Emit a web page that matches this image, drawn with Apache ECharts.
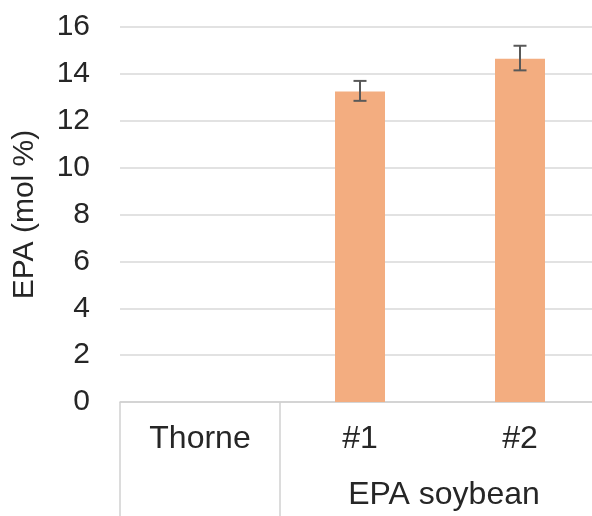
<!DOCTYPE html>
<html>
<head>
<meta charset="utf-8">
<script src="https://cdn.jsdelivr.net/npm/echarts@6/dist/echarts.min.js"></script>
<style>html,body{margin:0;padding:0;background:#fff;}#c{width:592px;height:516px;}</style>
</head>
<body>
<div id="c"></div>
<script>
const categories = ['Thorne', '#1', '#2'];
const groupLabel = 'EPA soybean';
const values = [null, 13.25, 14.65];
const errLow = [null, 12.85, 14.15];
const errHigh = [null, 13.7, 15.2];
const yTicks = [0, 2, 4, 6, 8, 10, 12, 14, 16];

const chart = echarts.init(document.getElementById('c'));
const font = 'Liberation Sans, Arial, sans-serif';
const fs = 30;
const fx = 32;
const option = {
  animation: false,
  grid: { left: 120, top: 27, width: 480, height: 375, outerBoundsMode: 'none', containLabel: false },
  xAxis: {
    type: 'category',
    data: categories,
    axisLine: { lineStyle: { color: '#d0d0d0', width: 1.5 } },
    axisTick: { show: false },
    axisLabel: { fontSize: fx, color: '#262626', fontFamily: font, margin: 21 }
  },
  yAxis: {
    type: 'value',
    min: yTicks[0], max: yTicks[yTicks.length - 1], interval: 2,
    name: 'EPA (mol %)', nameLocation: 'middle', nameGap: 80,
    nameTextStyle: { fontSize: fs, color: '#262626', fontFamily: font },
    axisLine: { show: false }, axisTick: { show: false },
    axisLabel: { fontSize: fs, color: '#262626', fontFamily: font, margin: 30 },
    splitLine: { lineStyle: { color: '#d9d9d9', width: 1.5 } }
  },
  series: [
    { type: 'bar', data: values, barWidth: 50, itemStyle: { color: '#F3AD80' } },
    {
      type: 'custom',
      data: categories.map((c, i) => [i, errLow[i], errHigh[i]]).filter(d => d[1] != null),
      renderItem: function (params, api) {
        const x = api.value(0);
        const lo = api.coord([x, api.value(1)]);
        const hi = api.coord([x, api.value(2)]);
        const hw = 6.5;
        const st = { stroke: '#595959', lineWidth: 2 };
        return { type: 'group', children: [
          { type: 'line', shape: { x1: lo[0], y1: lo[1], x2: hi[0], y2: hi[1] }, style: st },
          { type: 'line', shape: { x1: lo[0] - hw, y1: lo[1], x2: lo[0] + hw, y2: lo[1] }, style: st },
          { type: 'line', shape: { x1: hi[0] - hw, y1: hi[1], x2: hi[0] + hw, y2: hi[1] }, style: st }
        ]};
      },
      z: 10
    }
  ]
};
chart.setOption(option);

const p0 = chart.convertToPixel({ xAxisIndex: 0 }, 0);
const p1 = chart.convertToPixel({ xAxisIndex: 0 }, 1);
const band = p1 - p0;
const axisY = chart.convertToPixel({ yAxisIndex: 0 }, 0);
const b0 = p0 - band / 2;
const b1 = p0 + band / 2;
const groupCenter = (chart.convertToPixel({ xAxisIndex: 0 }, 1) + chart.convertToPixel({ xAxisIndex: 0 }, 2)) / 2;
chart.setOption({
  graphic: [
    { type: 'line', shape: { x1: b0, y1: axisY, x2: b0, y2: 516 }, style: { stroke: '#d0d0d0', lineWidth: 1.5 } },
    { type: 'line', shape: { x1: b1, y1: axisY, x2: b1, y2: 516 }, style: { stroke: '#d0d0d0', lineWidth: 1.5 } },
    { type: 'text', x: groupCenter + 4, y: axisY + 93, style: { text: groupLabel, fontSize: fx, fill: '#262626', fontFamily: font, textAlign: 'center', textVerticalAlign: 'middle' } }
  ]
});
</script>
</body>
</html>
